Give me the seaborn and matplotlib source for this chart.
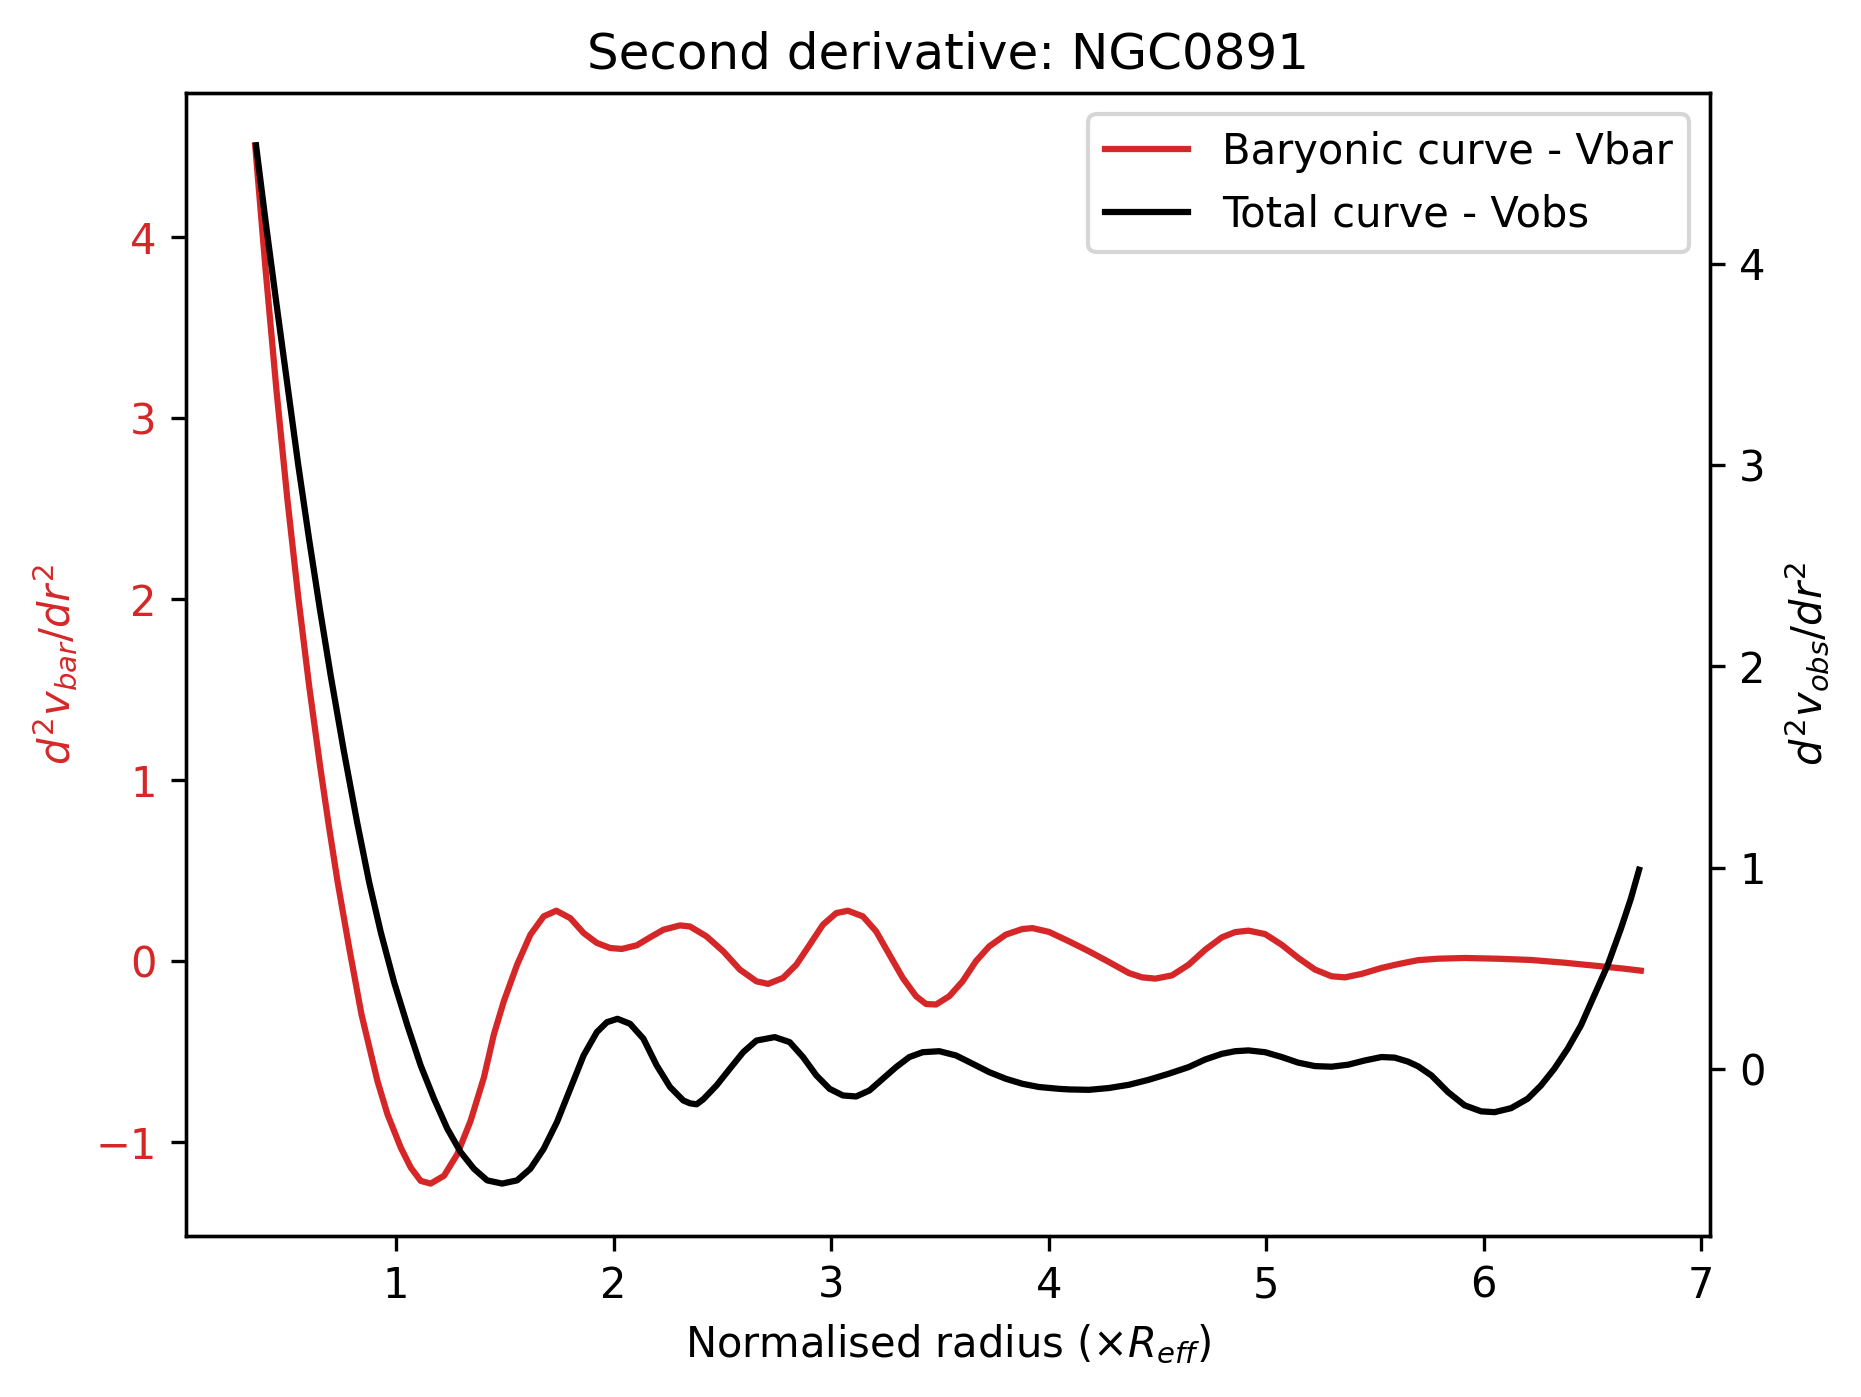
import numpy as np
import pandas as pd
import seaborn as sns
import matplotlib.pyplot as plt

# values
r_bar = [0.352, 0.40, 0.45, 0.50, 0.55, 0.60, 0.65, 0.69, 0.7307, 0.7842, 0.8407, 0.9141,
         0.960, 1.0211, 1.0669, 1.1128, 1.1586, 1.2198, 1.2809, 1.342, 1.4032, 1.449,
         1.4949, 1.556, 1.6172, 1.6783, 1.7363, 1.8005, 1.8617, 1.9228, 1.984, 2.0375,
         2.1062, 2.1673, 2.2285, 2.3049, 2.3508, 2.4272, 2.5036, 2.58, 2.6564, 2.7099,
         2.7787, 2.8398, 2.901, 2.9621, 3.0232, 3.0767, 3.1455, 3.2066, 3.2678, 3.3289,
         3.39, 3.4359, 3.4818, 3.5429, 3.604, 3.6652, 3.7263, 3.8027, 3.8791, 3.9249,
         4.0014, 4.0931, 4.1848, 4.2765, 4.3682, 4.4293, 4.4905, 4.5669, 4.6433, 4.7197,
         4.7961, 4.8573, 4.9184, 4.9948, 5.0712, 5.1476, 5.224, 5.3004, 5.3616, 5.438,
         5.5297, 5.6061, 5.6979, 5.7896, 5.9118, 6.0647, 6.2175, 6.3703, 6.5232, 6.6454,
         6.7219]
d2_bar = [4.507, 3.817, 3.152, 2.552, 2.012, 1.522, 1.082, 0.754, 0.441, 0.074, -0.293, -0.661,
          -0.844, -1.028, -1.138, -1.212, -1.227, -1.184, -1.065, -0.881, -0.642, -0.404,
          -0.22, -0.018, 0.148, 0.249, 0.28, 0.239, 0.157, 0.102, 0.074, 0.069,
          0.089, 0.133, 0.175, 0.199, 0.193, 0.138, 0.056, -0.045, -0.11, -0.124,
          -0.091, -0.018, 0.092, 0.203, 0.267, 0.28, 0.249, 0.166, 0.037, -0.091,
          -0.192, -0.235, -0.238, -0.192, -0.11, 0.001, 0.083, 0.148, 0.179, 0.184,
          0.163, 0.111, 0.056, -0.003, -0.064, -0.088, -0.095, -0.077, -0.018, 0.065,
          0.133, 0.162, 0.17, 0.151, 0.092, 0.019, -0.045, -0.082, -0.088, -0.069,
          -0.036, -0.015, 0.007, 0.015, 0.019, 0.015, 0.008, -0.007, -0.025, -0.04,
          -0.051]

r_obs = [0.356, 0.40, 0.45, 0.50, 0.55, 0.60, 0.65, 0.70, 0.76, 0.82, 0.8759, 0.9294,
         0.9905, 1.0517, 1.1128, 1.1739, 1.2351, 1.2962, 1.3573, 1.4185, 1.4873, 1.556,
         1.6172, 1.6783, 1.7394, 1.8005, 1.8617, 1.9228, 1.9687, 2.0176, 2.0756, 2.1368,
         2.1979, 2.2591, 2.3202, 2.3508, 2.3813, 2.4119, 2.473, 2.5341, 2.5953, 2.6564,
         2.7405, 2.8093, 2.8704, 2.9315, 2.9927, 3.0538, 3.1149, 3.1761, 3.2372, 3.2984,
         3.3595, 3.4206, 3.497, 3.5734, 3.6498, 3.7263, 3.8027, 3.8791, 3.9555, 4.0472,
         4.0931, 4.1848, 4.2765, 4.3682, 4.4599, 4.5516, 4.6433, 4.7197, 4.7961, 4.8573,
         4.9184, 4.9948, 5.0712, 5.1476, 5.224, 5.3004, 5.3769, 5.4533, 5.5297, 5.5908,
         5.652, 5.6979, 5.759, 5.8354, 5.9118, 5.9882, 6.0494, 6.1258, 6.2022, 6.2633,
         6.3245, 6.3856, 6.4467, 6.5079, 6.569, 6.6301, 6.676, 6.7141]
d2_obs = [4.589, 4.21, 3.80, 3.40, 3.00, 2.63, 2.28, 1.948, 1.576, 1.228, 0.927, 0.678,
          0.43, 0.215, 0.016, -0.149, -0.298, -0.414, -0.497, -0.555, -0.571, -0.555,
          -0.497, -0.398, -0.265, -0.1, 0.066, 0.182, 0.231, 0.248, 0.223, 0.149,
          0.016, -0.091, -0.158, -0.172, -0.177, -0.152, -0.083, 0.0, 0.082, 0.14,
          0.157, 0.132, 0.058, -0.033, -0.1, -0.133, -0.138, -0.108, -0.05, 0.008,
          0.058, 0.082, 0.087, 0.066, 0.025, -0.017, -0.05, -0.075, -0.091, -0.1,
          -0.103, -0.105, -0.096, -0.08, -0.055, -0.025, 0.008, 0.046, 0.074, 0.087,
          0.091, 0.082, 0.058, 0.03, 0.013, 0.01, 0.02, 0.041, 0.058, 0.055,
          0.035, 0.012, -0.033, -0.116, -0.182, -0.212, -0.216, -0.196, -0.149, -0.083,
          0.0, 0.099, 0.215, 0.364, 0.513, 0.695, 0.844, 0.989]

bar = pd.DataFrame({"r": r_bar, "d2": d2_bar})
obs = pd.DataFrame({"r": r_obs, "d2": d2_obs})

fig = plt.figure(figsize=(1861 / 300, 1397 / 300), dpi=300)
ax1 = fig.add_axes([0.0999, 0.1156, 0.819, 0.8175])
ax2 = ax1.twinx()

sns.lineplot(data=bar, x="r", y="d2", ax=ax1, color="tab:red", label="Baryonic curve - Vbar")
sns.lineplot(data=obs, x="r", y="d2", ax=ax2, color="black", label="Total curve - Vobs")

ax1.set_xlabel(r"Normalised radius ($\times R_{eff}$)")
ax1.set_ylabel(r"$d^2v_{bar}/dr^2$", color="tab:red")
ax2.set_ylabel(r"$d^2v_{obs}/dr^2$", color="black")
ax1.tick_params(axis="y", labelcolor="tab:red")
ax1.set_title("Second derivative: NGC0891")

# one legend for both axes
h1, l1 = ax1.get_legend_handles_labels()
h2, l2 = ax2.get_legend_handles_labels()
ax1.get_legend().remove()
ax2.get_legend().remove()
ax2.legend(h1 + h2, l1 + l2, loc="upper right")

plt.savefig("out.png", dpi=300)
